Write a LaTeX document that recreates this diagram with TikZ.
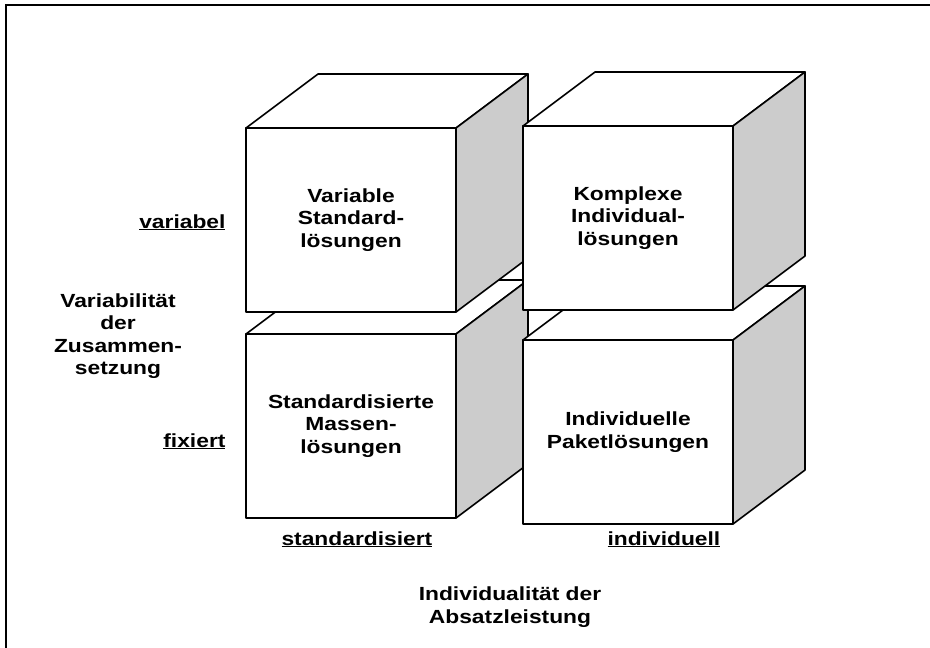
\documentclass[tikz,border=0pt]{standalone}
\usepackage{fontspec}
\setmainfont{Liberation Sans}
\newfontfamily\lblfont[FakeStretch=1.2]{Liberation Sans}
\usetikzlibrary{positioning}

\tikzset{
  cubeline/.style={black, line width=1.6pt, line join=round},
  cubetext/.style={align=center, font=\lblfont\bfseries\fontsize{19}{22.5}\selectfont},
  axistext/.style={font=\lblfont\bfseries\fontsize{19}{22.5}\selectfont}
}

% #1,#2 = upper left corner of the front face, #3 = node name, #4 = text
\newcommand{\drawcube}[4]{%
  \draw[cubeline, fill=white] (#1,#2) -- ++(72,-54) -- ++(210,0) -- ++(-72,54) -- cycle;
  \draw[cubeline, fill=black!20] (#1+210,#2) -- ++(72,-54) -- ++(0,184) -- ++(-72,54) -- cycle;
  \draw[cubeline, fill=white] (#1,#2) rectangle ++(210,184);
  \node[cubetext] (#3) at (#1+105,#2+92) {#4};
}

\begin{document}
\begin{tikzpicture}[x=1pt,y=-1pt]
\useasboundingbox (0,0) rectangle (930,648);
\draw[black, line width=2.2pt] (6,648) -- (6,5) -- (930,5);
\drawcube{246}{334}{stdmass}{Standardisierte\\Massen-\\lösungen}
\drawcube{523}{340}{indpaket}{Individuelle\\Paketlösungen}
\drawcube{246}{128}{varstd}{Variable\\Standard-\\lösungen}
\drawcube{523}{126}{kompind}{Komplexe\\Individual-\\lösungen}
\node[axistext, anchor=base east] (variabel) at (229,228) {\underline{variabel}};
\node[axistext, anchor=base east] (fixiert) at (229,447) {\underline{fixiert}};
\node[axistext, align=center] (variab) at (118,336) {Variabilität\\der\\Zusammen-\\setzung};
\node[axistext, anchor=base west] (standard) at (278,545) {\underline{standardisiert}};
\node[axistext, anchor=base west] (indiv) at (604,545) {\underline{individuell}};
\node[axistext, align=center] (indabs) at (510,607) {Individualität der\\Absatzleistung};
\end{tikzpicture}
\end{document}
